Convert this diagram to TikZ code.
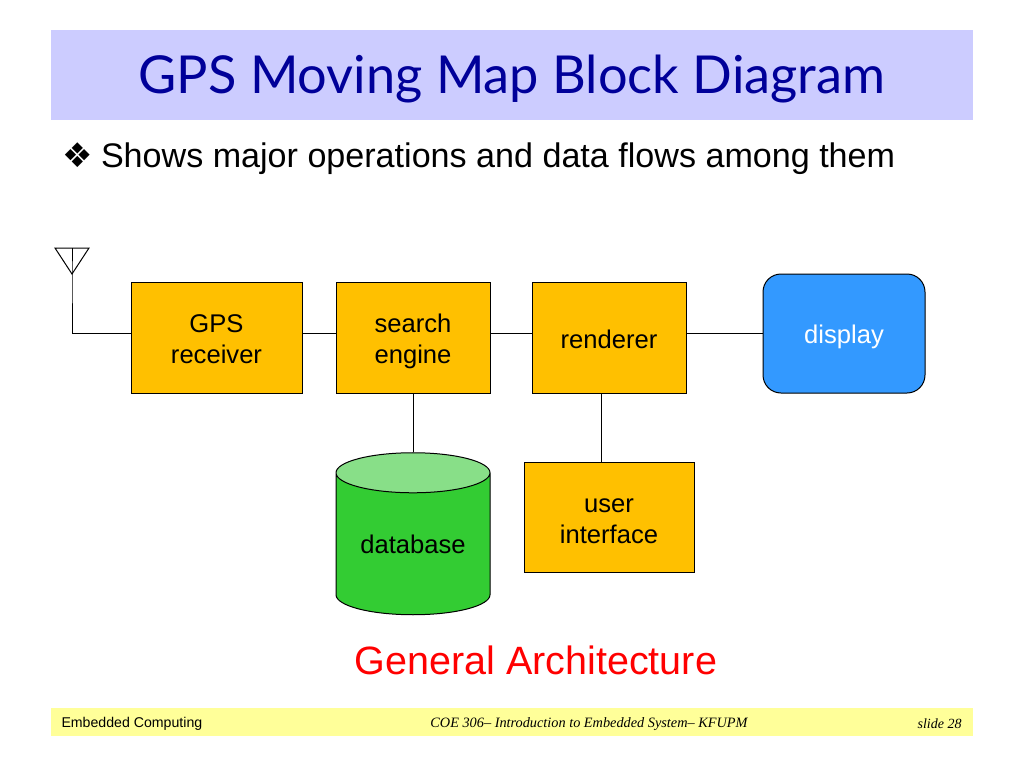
\documentclass[tikz,border=0pt]{standalone}
\usepackage{fontspec}
\setmainfont{Liberation Sans}
\newfontfamily\titlefont{Lato}
\newfontfamily\footfont{Liberation Serif}
\newfontfamily\symbfont{DejaVu Sans}
\usetikzlibrary{shapes.geometric}
\definecolor{barblue}{HTML}{CCCCFF}
\definecolor{barfoot}{HTML}{FFFF99}
\definecolor{titleblue}{HTML}{000099}
\definecolor{boxorange}{HTML}{FFC000}
\definecolor{dbgreen}{HTML}{33CC33}
\definecolor{dbtop}{HTML}{88DF88}
\definecolor{dispblue}{HTML}{3399FF}
\newcommand{\lift}[1]{\rule{0pt}{#1pt}}
\begin{document}
\begin{tikzpicture}
	[x=1pt, y=-1pt, line width=1pt,
	main/.style = {draw, fill=boxorange, align=center, font=\fontsize{25.6}{31}\selectfont, inner sep=0pt, minimum height=111pt},
	bar/.style = {fill, inner sep=0pt, anchor=north west}]
	\useasboundingbox (0,0) rectangle (1024,768);
	\node[bar, fill=barblue, minimum width=922pt, minimum height=89.5pt] (titlebar) at (50.5,30) {};
	\node[text=titleblue, font=\titlefont\fontsize{52.3}{60}\selectfont] (title) at (512,79) {GPS Moving Map Block Diagram};
	\node[anchor=west, inner sep=0pt, font=\fontsize{34.1}{40}\selectfont] (lead) at (62,158.5) {\makebox[38.5pt][l]{\symbfont\fontsize{34}{34}\selectfont ❖}Shows major operations and data flows among them};
	\node[main, minimum width=171pt] (1) at (216.5,337.5) {\lift{21.5}GPS\\receiver};
	\node[main, minimum width=154pt] (2) at (413,337.5) {\lift{27}search\\engine};
	\node[main, minimum width=154pt] (3) at (609,337.5) {\lift{21.5}renderer};
	\node[main, minimum width=162pt, minimum height=119pt, fill=dispblue, rounded corners=18pt, text=white] (4) at (844,333.5) {\lift{24.5}display};
	\node[main, minimum width=170pt, minimum height=110pt] (5) at (609,517) {\lift{21.5}user\\interface};
	\node[draw, cylinder, shape border rotate=90, aspect=0.38, minimum width=154pt, minimum height=162pt, inner sep=0pt, cylinder uses custom fill, cylinder body fill=dbgreen, cylinder end fill=dbtop, font=\fontsize{25.6}{31}\selectfont] (6) at (413,544) {database};
	\node[text=red, font=\fontsize{39.5}{46}\selectfont] (caption) at (536,660) {General Architecture};
	\node[bar, fill=barfoot, minimum width=922pt, minimum height=27.5pt] (footbar) at (50.5,707.5) {};
	\node[anchor=west, inner sep=0pt, font=\fontsize{14.15}{16}\selectfont] (foot1) at (61,723.5) {Embedded Computing};
	\node[inner sep=0pt, font=\footfont\itshape\fontsize{14.3}{16}\selectfont] (foot2) at (589,724) {COE 306– Introduction to Embedded System– KFUPM};
	\node[anchor=east, inner sep=0pt, font=\footfont\itshape\fontsize{14}{16}\selectfont] (foot3) at (962,724) {slide 28};
	\coordinate (a) at (55,248);
	\coordinate (b) at (89,248);
	\coordinate (c) at (72,274);
	\coordinate (d) at (72,248);
	\draw (a) -- (b) -- (c) -- cycle;
	\draw (d) -- (c) |- (1.west |- 4.west);
	\draw (1.east |- 4.west) -- (2.west |- 4.west);
	\draw (2.east |- 4.west) -- (3.west |- 4.west);
	\draw (3.east |- 4.west) -- (4.west);
	\draw (2.south) -- (6.north);
	\draw ([xshift=-8pt]3.south) -- ([xshift=-8pt]5.north);
\end{tikzpicture}
\end{document}
